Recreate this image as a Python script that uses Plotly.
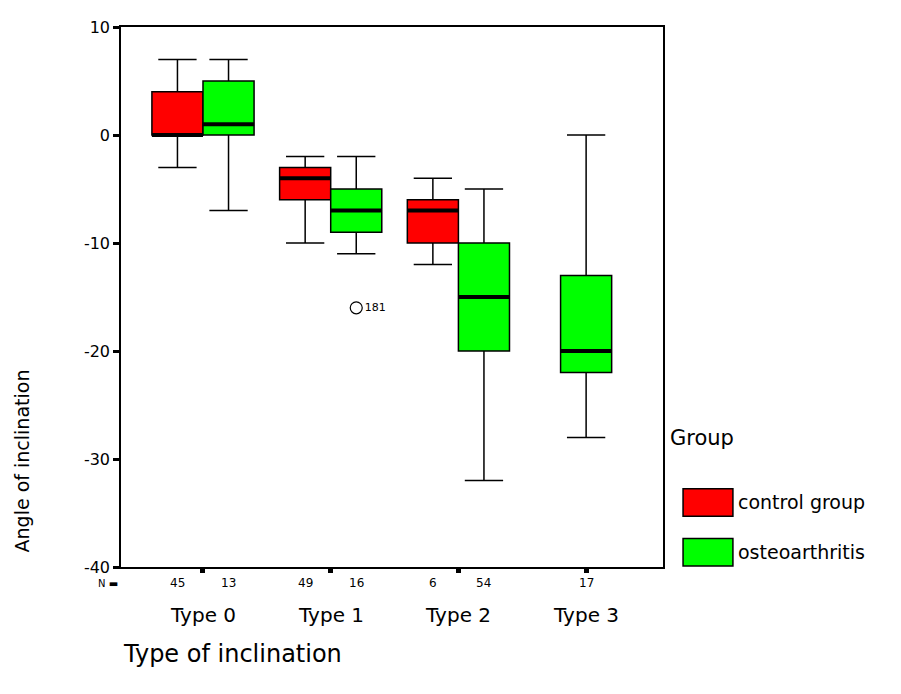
import plotly.graph_objects as go

categories = ["Type 0", "Type 1", "Type 2", "Type 3"]

# control group (Type 0..2)
ctrl_cat = [0, 1, 2]
ctrl_low = [-3, -10, -12]
ctrl_q1 = [0, -6, -10]
ctrl_med = [0, -4, -7]
ctrl_q3 = [4, -3, -6]
ctrl_up = [7, -2, -4]
ctrl_n = [45, 49, 6]

# osteoarthritis (Type 0..3)
oa_cat = [0, 1, 2, 3]
oa_low = [-7, -11, -32, -28]
oa_q1 = [0, -9, -20, -22]
oa_med = [1, -7, -15, -20]
oa_q3 = [5, -5, -10, -13]
oa_up = [7, -2, -5, 0]
oa_n = [13, 16, 54, 17]

# outlier
out_cat = [1]
out_val = [-16]
out_label = ["181"]

y_ticks = [10, 0, -10, -20, -30, -40]

BW = 0.4
HALF = BW / 2

def pos(cat_list, side, other_cats):
    res = []
    for c in cat_list:
        if c in other_cats:
            res.append(c + side * HALF)
        else:
            res.append(c)
    return res

ctrl_x = pos(ctrl_cat, -1, oa_cat)
oa_x = pos(oa_cat, 1, ctrl_cat)
out_x = [oa_x[oa_cat.index(c)] for c in out_cat]

RED = "#FF0000"
GREEN = "#00FF00"
FONT = "DejaVu Sans, Verdana, sans-serif"

fig = go.Figure()

fig.add_trace(go.Box(
    x=ctrl_x, q1=ctrl_q1, median=ctrl_med, q3=ctrl_q3,
    lowerfence=ctrl_low, upperfence=ctrl_up,
    width=BW, whiskerwidth=0.75, fillcolor=RED,
    line=dict(color="black", width=1.5), boxpoints=False,
    name="control group", showlegend=False, hoverinfo="skip"))

fig.add_trace(go.Box(
    x=oa_x, q1=oa_q1, median=oa_med, q3=oa_q3,
    lowerfence=oa_low, upperfence=oa_up,
    width=BW, whiskerwidth=0.75, fillcolor=GREEN,
    line=dict(color="black", width=1.5), boxpoints=False,
    name="osteoarthritis", showlegend=False, hoverinfo="skip"))

# thick median lines
mx, my = [], []
for xs, ms in ((ctrl_x, ctrl_med), (oa_x, oa_med)):
    for x, m in zip(xs, ms):
        mx += [x - HALF, x + HALF, None]
        my += [m, m, None]
fig.add_trace(go.Scatter(x=mx, y=my, mode="lines",
                         line=dict(color="black", width=4),
                         showlegend=False, hoverinfo="skip"))

# outlier
fig.add_trace(go.Scatter(x=out_x, y=out_val, mode="markers+text",
                         marker=dict(symbol="circle-open", size=12,
                                     color="black", line=dict(width=1.2)),
                         text=out_label, textposition="middle right",
                         textfont=dict(family=FONT, size=11, color="black"),
                         showlegend=False, hoverinfo="skip"))

annotations = []
# N counts
for xs, ns in ((ctrl_x, ctrl_n), (oa_x, oa_n)):
    for x, n in zip(xs, ns):
        annotations.append(dict(x=x, y=-0.03, xref="x", yref="paper",
                                text=str(n), showarrow=False,
                                font=dict(family=FONT, size=12, color="black"),
                                xanchor="center", yanchor="middle"))
annotations.append(dict(x=-0.002, y=-0.03, xref="paper", yref="paper",
                        text="N ▬", showarrow=False,
                        font=dict(family=FONT, size=10, color="black"),
                        xanchor="right", yanchor="middle"))
# category labels
for i, c in enumerate(categories):
    annotations.append(dict(x=i, y=-0.088, xref="x", yref="paper",
                            text=c, showarrow=False,
                            font=dict(family=FONT, size=20, color="black"),
                            xanchor="center", yanchor="middle"))
# axis titles
annotations.append(dict(x=0.0, y=-0.162, xref="paper", yref="paper",
                        text="Type of inclination", showarrow=False,
                        font=dict(family=FONT, size=24, color="black"),
                        xanchor="left", yanchor="middle"))
annotations.append(dict(x=-0.183, y=0.197, xref="paper", yref="paper",
                        text="Angle of inclination", showarrow=False,
                        textangle=-90,
                        font=dict(family=FONT, size=19, color="black"),
                        xanchor="center", yanchor="middle"))
# legend
annotations.append(dict(x=1.009, y=0.239, xref="paper", yref="paper",
                        text="Group", showarrow=False,
                        font=dict(family=FONT, size=21, color="black"),
                        xanchor="left", yanchor="middle"))
annotations.append(dict(x=1.134, y=0.12, xref="paper", yref="paper",
                        text="control group", showarrow=False,
                        font=dict(family=FONT, size=19, color="black"),
                        xanchor="left", yanchor="middle"))
annotations.append(dict(x=1.134, y=0.027, xref="paper", yref="paper",
                        text="osteoarthritis", showarrow=False,
                        font=dict(family=FONT, size=19, color="black"),
                        xanchor="left", yanchor="middle"))

shapes = [
    dict(type="rect", xref="paper", yref="paper", x0=1.037, x1=1.129,
         y0=0.094, y1=0.145, fillcolor=RED, line=dict(color="black", width=1.5)),
    dict(type="rect", xref="paper", yref="paper", x0=1.037, x1=1.129,
         y0=0.002, y1=0.053, fillcolor=GREEN, line=dict(color="black", width=1.5)),
]

fig.update_layout(
    width=893, height=686,
    margin=dict(l=113, r=238, t=10, b=127),
    paper_bgcolor="white", plot_bgcolor="white",
    boxmode="overlay",
    font=dict(family=FONT, color="black"),
    annotations=annotations, shapes=shapes,
    xaxis=dict(range=[-0.642, 3.602], tickvals=list(range(len(categories))),
               ticktext=["" for _ in categories],
               ticks="outside", ticklen=4, tickwidth=5, tickcolor="black",
               showgrid=False, zeroline=False, showline=True, linecolor="black",
               linewidth=1.5, mirror=True),
    yaxis=dict(range=[-40, 10], tickvals=y_ticks,
               ticktext=[str(v) for v in y_ticks],
               ticks="outside", ticklen=6, tickwidth=3, tickcolor="black",
               tickfont=dict(family=FONT, size=16, color="black"),
               showgrid=False, zeroline=False, showline=True, linecolor="black",
               linewidth=1.5, mirror=True),
)

fig.write_html("out.html")
